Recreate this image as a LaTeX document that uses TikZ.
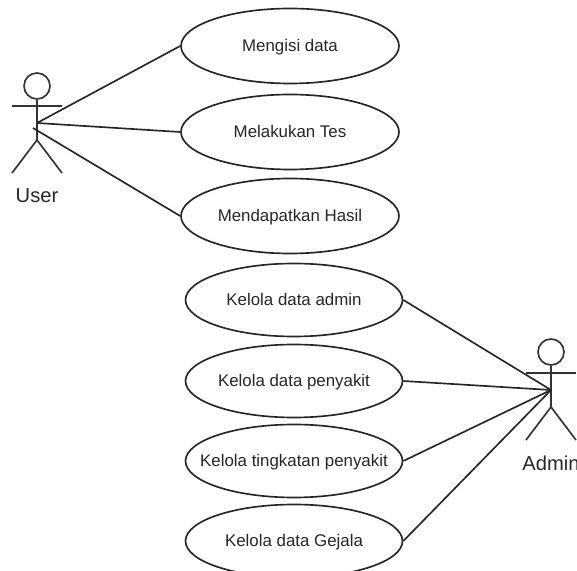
\documentclass[tikz,border=0pt]{standalone}
\usepackage{fontspec}
\setmainfont{Liberation Sans}
\tikzset{
    usecase/.style = {draw, ellipse, line width = .5mm, black!85, text = black!85, inner xsep = -8mm, inner ysep = 0pt, text height = 12pt, text depth = 3pt, font = \fontsize{14.4}{16}\selectfont},
    actorline/.style = {line width = .5mm, black!80},
    actorhead/.style = {draw, circle, line width = .5mm, black!80, inner sep = 0pt, minimum size = 26*.03cm},
    actorname/.style = {font = \fontsize{17.2}{20}\selectfont, black!85},
    assoc/.style = {line width = .5mm, black!85}
}
\usetikzlibrary{shapes.geometric}
\begin{document}
\begin{tikzpicture}[x = .03cm, y = -.03cm]
        \useasboundingbox (0, 0) rectangle (577, 571);
        % use cases of the user
        \node[usecase, minimum width = 218*.03cm, minimum height = 75*.03cm] (mengisi) at (290, 46) {Mengisi data};
        \node[usecase, minimum width = 218*.03cm, minimum height = 75*.03cm] (tes) at (290, 132) {Melakukan Tes};
        \node[usecase, minimum width = 218*.03cm, minimum height = 75*.03cm] (hasil) at (290, 216) {Mendapatkan Hasil};
        % use cases of the admin
        \node[usecase, minimum width = 217*.03cm, minimum height = 73*.03cm] (admin) at (294, 300) {Kelola data admin};
        \node[usecase, minimum width = 217*.03cm, minimum height = 73*.03cm] (penyakit) at (294, 381) {Kelola data penyakit};
        \node[usecase, minimum width = 217*.03cm, minimum height = 73*.03cm] (tingkatan) at (294, 461) {Kelola tingkatan penyakit};
        \node[usecase, minimum width = 217*.03cm, minimum height = 73*.03cm] (gejala) at (294, 541) {Kelola data Gejala};
        % actor user
        \node[actorhead] (userhead) at (37, 86) {};
        \coordinate (userhip) at (37, 140);
        \coordinate (userarml) at (12, 106);
        \coordinate (userarmr) at (62, 106);
        \coordinate (userfootl) at (12, 173);
        \coordinate (userfootr) at (62, 173);
        \coordinate (userhub) at (37, 123);
        \coordinate (userhubb) at (33, 128);
        \draw[actorline] (userhead.south) -- (userhip);
        \draw[actorline] (userarml) -- (userarmr);
        \draw[actorline] (userfootl) -- (userhip) -- (userfootr);
        \node[actorname] (username) at (37, 196) {User};
        % actor admin
        \node[actorhead] (adminhead) at (551, 352) {};
        \coordinate (adminhip) at (551, 407);
        \coordinate (adminarml) at (526, 373);
        \coordinate (adminarmr) at (576, 373);
        \coordinate (adminfootl) at (526, 440);
        \coordinate (adminfootr) at (576, 440);
        \coordinate (adminhub) at (551, 390);
        \draw[actorline] (adminhead.south) -- (adminhip);
        \draw[actorline] (adminarml) -- (adminarmr);
        \draw[actorline] (adminfootl) -- (adminhip) -- (adminfootr);
        \node[actorname] (adminname) at (551, 463) {Admin};
        % associations
        \draw[assoc] (userhub) -- (mengisi.west);
        \draw[assoc] (userhub) -- (tes.west);
        \draw[assoc] (userhubb) -- (hasil.west);
        \foreach \u in {admin, penyakit, tingkatan, gejala}
        \draw[assoc] (adminhub) -- (\u.east);
\end{tikzpicture}
\end{document}
